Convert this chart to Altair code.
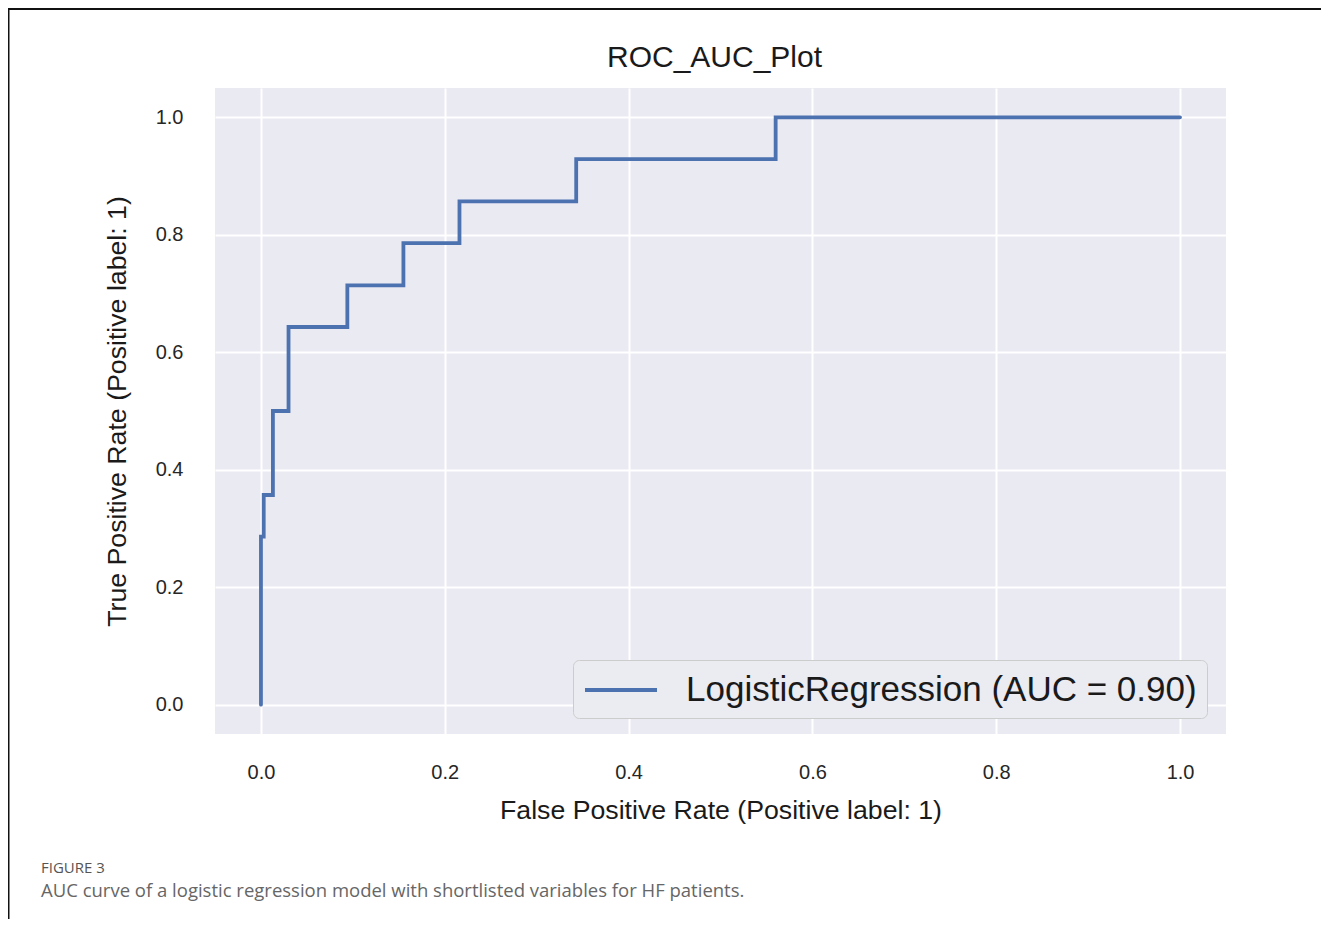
import altair as alt
import pandas as pd

# ROC curve corner points
fpr = [0.0, 0.0, 0.003, 0.003, 0.013, 0.013, 0.030, 0.030, 0.094, 0.094,
       0.155, 0.155, 0.216, 0.216, 0.343, 0.343, 0.560, 0.560, 1.0]
tpr = [0.0, 0.286, 0.286, 0.357, 0.357, 0.500, 0.500, 0.643, 0.643, 0.714,
       0.714, 0.786, 0.786, 0.857, 0.857, 0.929, 0.929, 1.0, 1.0]
series_name = "LogisticRegression (AUC = 0.90)"
tick_values = [0.0, 0.2, 0.4, 0.6, 0.8, 1.0]
chart_title = "ROC_AUC_Plot"
x_title = "False Positive Rate (Positive label: 1)"
y_title = "True Positive Rate (Positive label: 1)"
caption_head = "FIGURE 3"
caption_text = "AUC curve of a logistic regression model with shortlisted variables for HF patients."

df = pd.DataFrame({"fpr": fpr, "tpr": tpr, "order": list(range(len(fpr))),
                   "series": [series_name] * len(fpr)})
one = pd.DataFrame({"k": [0]})  # single row for decorative marks

W, H = 1011, 646
FONT = "Liberation Sans"
TXT = "#262626"

line = alt.Chart(df).mark_line(strokeWidth=3.8, strokeCap="round").encode(
    x=alt.X("fpr:Q",
            scale=alt.Scale(domain=[-0.05, 1.05], nice=False, zero=False),
            axis=alt.Axis(values=tick_values, format=".1f", title=x_title,
                          labelPadding=28, titlePadding=15)),
    y=alt.Y("tpr:Q",
            scale=alt.Scale(domain=[-0.05, 1.05], nice=False, zero=False),
            axis=alt.Axis(values=tick_values, format=".1f", title=y_title,
                          labelPadding=32, titlePadding=24)),
    order="order:Q",
    color=alt.Color("series:N", scale=alt.Scale(range=["#4c72b0"]),
                    legend=alt.Legend(orient="none", legendX=358, legendY=572,
                                      title=None, symbolType="M-1,0H3",
                                      symbolSize=1296, symbolStrokeWidth=3.8,
                                      labelFontSize=35, labelFont=FONT,
                                      labelColor="#1a1a1a", labelOffset=63,
                                      fillColor="#ebebf2", strokeColor="#cccccc",
                                      cornerRadius=6, padding=10,
                                      labelLimit=0)),
)

# decorative figure frame, title and caption
frame_top = alt.Chart(one).mark_rule(color="#111111", strokeWidth=2).encode(
    x=alt.value(-207), x2=alt.value(W + 110), y=alt.value(-79))
frame_left = alt.Chart(one).mark_rule(color="#111111", strokeWidth=2).encode(
    x=alt.value(-206.5), y=alt.value(-79), y2=alt.value(H + 200))
title_mark = alt.Chart(one).mark_text(align="center", baseline="alphabetic", font=FONT,
                                      fontSize=30, color="#1a1a1a").encode(
    x=alt.value(W / 2 - 6), y=alt.value(67 - 88), text=alt.value(chart_title))
cap1 = alt.Chart(one).mark_text(align="left", baseline="alphabetic", font="Open Sans",
                                fontSize=15, color="#555555").encode(
    x=alt.value(41 - 215), y=alt.value(873 - 88), text=alt.value(caption_head))
cap2 = alt.Chart(one).mark_text(align="left", baseline="alphabetic", font="Open Sans",
                                fontSize=18.5, color="#666666").encode(
    x=alt.value(41 - 215), y=alt.value(897 - 88), text=alt.value(caption_text))

chart = alt.layer(line, frame_top, frame_left, title_mark, cap1, cap2).properties(
    width=W, height=H,
    background="#ffffff",
    autosize=alt.AutoSizeParams(type="none"),
    padding={"left": 207, "top": 80, "right": 95, "bottom": 185},
).configure_view(
    fill="#eaeaf2", stroke=None
).configure_axis(
    grid=True, gridColor="#ffffff", gridWidth=2, domain=False, ticks=False,
    tickSize=0, labelFont=FONT, labelFontSize=20, labelColor=TXT,
    titleFont=FONT, titleFontSize=26.7, titleFontWeight="normal", titleColor="#1a1a1a",
)

chart.save("out.html", embed_options={"renderer": "svg", "actions": False})
